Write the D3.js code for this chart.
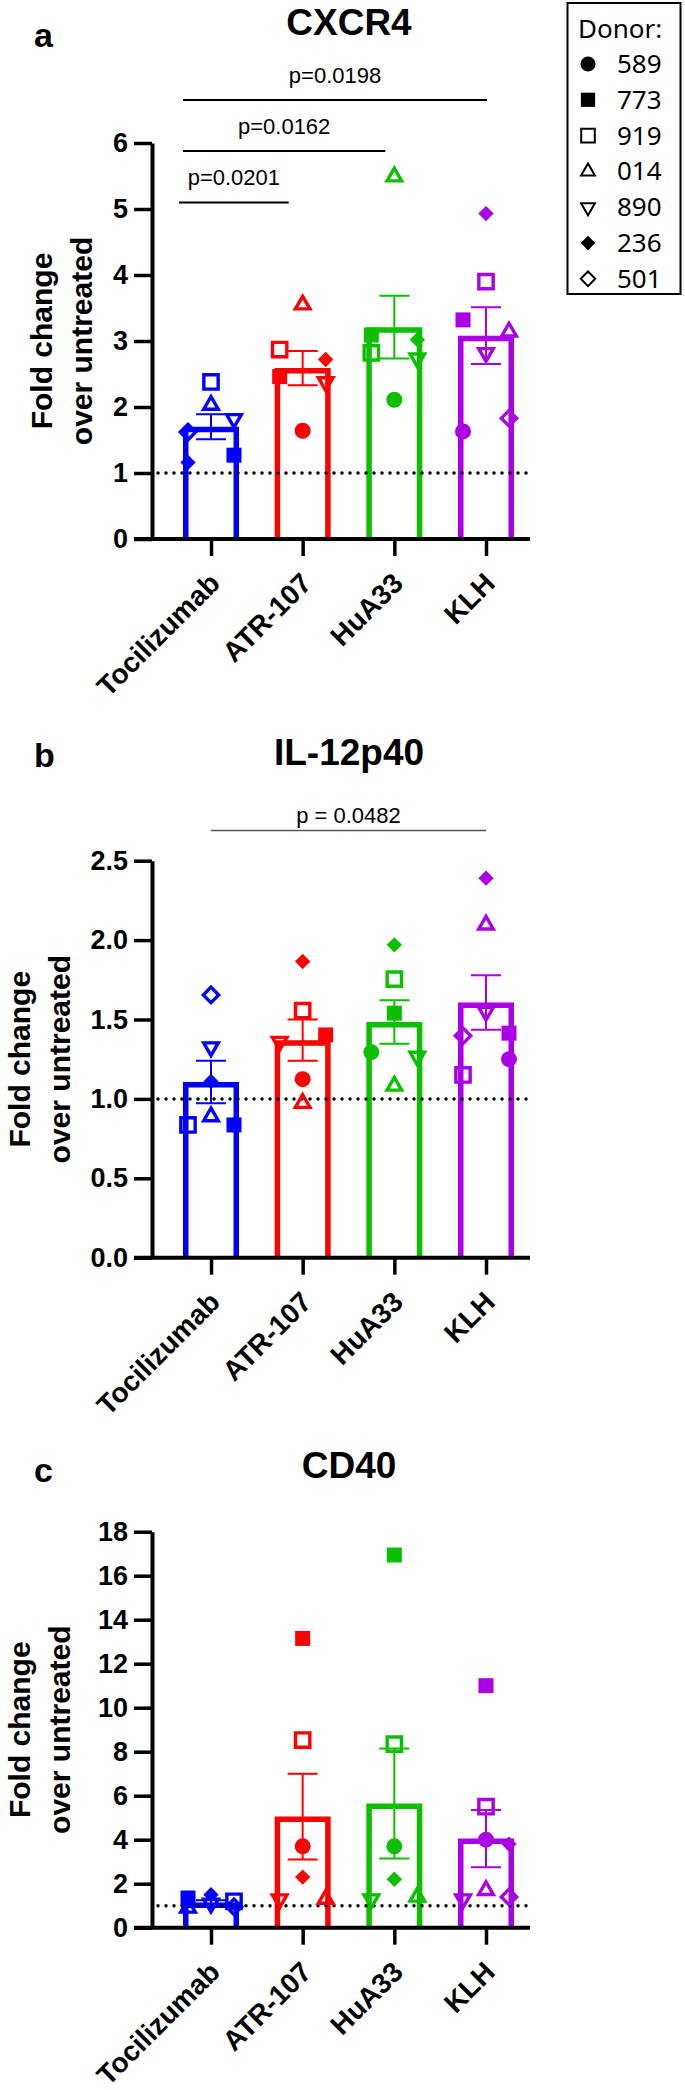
<!DOCTYPE html>
<html>
<head>
<meta charset="utf-8">
<script src="https://cdn.jsdelivr.net/npm/d3@7.9.0/dist/d3.min.js"></script>
<style>
  body { margin: 0; background: #fff; }
  svg { display: block; }
  .bold { font-family: "Liberation Sans", Arial, sans-serif; font-weight: bold; }
  .plain { font-family: "Liberation Sans", Arial, sans-serif; }
</style>
</head>
<body>
<svg id="fig" width="685" height="2090"></svg>
<script>
const CATEGORIES = ["Tocilizumab", "ATR-107", "HuA33", "KLH"];
const DONORS = ["589", "773", "919", "014", "890", "236", "501"];

// [category, donor, value, column in the swarm (L / C / R)]
const CXCR4_POINTS = [
  ["Tocilizumab", "919", 2.38, "C"], ["Tocilizumab", "014", 2.03, "C"], ["Tocilizumab", "890", 1.82, "R"],
  ["Tocilizumab", "501", 1.62, "L"], ["Tocilizumab", "773", 1.27, "R"], ["Tocilizumab", "236", 1.16, "L"],
  ["ATR-107", "014", 3.55, "C"], ["ATR-107", "919", 2.87, "L"], ["ATR-107", "236", 2.72, "R"],
  ["ATR-107", "773", 2.46, "L"], ["ATR-107", "890", 2.38, "R"], ["ATR-107", "589", 1.64, "C"],
  ["HuA33", "014", 5.49, "C"], ["HuA33", "773", 3.09, "L"], ["HuA33", "236", 3.02, "R"],
  ["HuA33", "919", 2.82, "L"], ["HuA33", "890", 2.74, "R"], ["HuA33", "589", 2.11, "C"],
  ["KLH", "236", 4.93, "C"], ["KLH", "919", 3.90, "C"], ["KLH", "773", 3.32, "L"], ["KLH", "014", 3.14, "R"],
  ["KLH", "890", 2.82, "C"], ["KLH", "501", 1.83, "R"], ["KLH", "589", 1.63, "L"]
];
const CXCR4_MEAN = [1.70, 2.59, 3.21, 3.08];
const CXCR4_SEM = [0.19, 0.26, 0.475, 0.43];
const CXCR4_SIG = [
  ["Tocilizumab", "KLH", "p=0.0198", 6.65],
  ["Tocilizumab", "HuA33", "p=0.0162", 5.88],
  ["Tocilizumab", "ATR-107", "p=0.0201", 5.10]
];

const IL12_POINTS = [
  ["Tocilizumab", "501", 1.655, "C"], ["Tocilizumab", "890", 1.326, "C"], ["Tocilizumab", "236", 1.11, "C"],
  ["Tocilizumab", "014", 0.889, "C"], ["Tocilizumab", "919", 0.836, "L"], ["Tocilizumab", "773", 0.836, "R"],
  ["ATR-107", "236", 1.865, "C"], ["ATR-107", "919", 1.556, "C"], ["ATR-107", "773", 1.403, "R"],
  ["ATR-107", "890", 1.361, "L"], ["ATR-107", "589", 1.124, "C"], ["ATR-107", "014", 0.973, "C"],
  ["HuA33", "236", 1.97, "C"], ["HuA33", "919", 1.754, "C"], ["HuA33", "773", 1.54, "C"],
  ["HuA33", "589", 1.294, "L"], ["HuA33", "890", 1.267, "R"], ["HuA33", "014", 1.082, "C"],
  ["KLH", "236", 2.39, "C"], ["KLH", "014", 2.096, "C"], ["KLH", "890", 1.55, "C"], ["KLH", "773", 1.414, "R"],
  ["KLH", "501", 1.397, "L"], ["KLH", "589", 1.25, "R"], ["KLH", "919", 1.151, "L"]
];
const IL12_MEAN = [1.107, 1.37, 1.484, 1.607];
const IL12_SEM = [0.134, 0.13, 0.137, 0.172];
const IL12_SIG = [["Tocilizumab", "KLH", "p = 0.0482", 2.69]];

const CD40_POINTS = [
  ["Tocilizumab", "236", 1.5, "C"], ["Tocilizumab", "773", 1.35, "L"], ["Tocilizumab", "919", 1.2, "R"],
  ["Tocilizumab", "890", 1.1, "C"], ["Tocilizumab", "501", 0.95, "R"], ["Tocilizumab", "014", 0.9, "L"],
  ["ATR-107", "773", 13.15, "C"], ["ATR-107", "919", 8.53, "C"], ["ATR-107", "589", 3.7, "C"],
  ["ATR-107", "236", 2.3, "C"], ["ATR-107", "890", 1.3, "L"], ["ATR-107", "014", 1.3, "R"],
  ["HuA33", "773", 16.94, "C"], ["HuA33", "919", 8.34, "C"], ["HuA33", "589", 3.7, "C"],
  ["HuA33", "236", 2.2, "C"], ["HuA33", "890", 1.3, "L"], ["HuA33", "014", 1.4, "R"],
  ["KLH", "773", 11.0, "C"], ["KLH", "919", 5.5, "C"], ["KLH", "589", 4.0, "C"], ["KLH", "236", 3.8, "R"],
  ["KLH", "014", 1.7, "C"], ["KLH", "890", 1.3, "L"], ["KLH", "501", 1.4, "R"]
];
const CD40_MEAN = [1.15, 5.05, 5.65, 4.05];
const CD40_SEM = [0.1, 1.95, 2.5, 1.3];
const CD40_SIG = [];

const COLORS = ["#0000ff", "#ff0000", "#0cc000", "#aa00e6"];

// marker style per donor
const MARK = {
  "589": {type: d3.symbolCircle, size: 200, fill: true, rot: 0},
  "773": {type: d3.symbolSquare, size: 225, fill: true, rot: 0},
  "919": {type: d3.symbolSquare, size: 205, fill: false, rot: 0},
  "014": {type: d3.symbolTriangle, size: 92, fill: false, rot: 0},
  "890": {type: d3.symbolTriangle, size: 92, fill: false, rot: 180},
  "236": {type: d3.symbolSquare, size: 118, fill: true, rot: 45},
  "501": {type: d3.symbolSquare, size: 118, fill: false, rot: 45}
};

const svg = d3.select("#fig");
const color = d3.scaleOrdinal().domain(CATEGORIES).range(COLORS);
const x = d3.scalePoint().domain(CATEGORIES).range([211, 486]);
const col = d3.scalePoint().domain(["L", "C", "R"]).range([-23, 23]);

const AXIS_X = 152, X_END = 530, BAR_W = 56, BAR_SW = 5.5;

function drawMarker(sel, donor, c, size_k = 1) {
  const m = MARK[donor];
  sel.append("path")
    .attr("d", d3.symbol(m.type, m.size * size_k)())
    .attr("transform", `rotate(${m.rot})`)
    .attr("fill", m.fill ? c : "#fff")
    .attr("fill-opacity", m.fill ? 1 : 0)
    .attr("stroke", m.fill ? "none" : c)
    .attr("stroke-width", 3.4)
    .attr("stroke-linejoin", "miter");
}

function panel(o) {
  const y = d3.scaleLinear().domain(o.domain).range([o.bottom, o.top]);
  const g = svg.append("g");

  g.append("text").attr("class", "bold").attr("x", 34).attr("y", o.letterY)
    .attr("font-size", 34).text(o.letter);
  g.append("text").attr("class", "bold").attr("x", 349).attr("y", o.titleY)
    .attr("text-anchor", "middle").attr("font-size", 37).text(o.title);

  // y label
  const cy = (o.top + o.bottom) / 2;
  g.append("text").attr("class", "bold").attr("font-size", 30)
    .attr("text-anchor", "middle")
    .attr("transform", `translate(${o.labX},${cy}) rotate(-90)`)
    .text("Fold change");
  g.append("text").attr("class", "bold").attr("font-size", 30)
    .attr("text-anchor", "middle")
    .attr("transform", `translate(${o.labX + 40},${cy}) rotate(-90)`)
    .text("over untreated");

  // bars
  const bars = g.append("g");
  CATEGORIES.forEach((c, i) => {
    const cx = x(c), ym = y(o.mean[i]);
    const l = cx - BAR_W / 2 + BAR_SW / 2, r = cx + BAR_W / 2 - BAR_SW / 2;
    bars.append("path")
      .attr("d", `M${l},${y(0)}V${ym + BAR_SW / 2}H${r}V${y(0)}`)
      .attr("fill", "none").attr("stroke", color(c)).attr("stroke-width", BAR_SW)
      .attr("stroke-linejoin", "miter");
    const hi = y(o.mean[i] + o.sem[i]), lo = y(o.mean[i] - o.sem[i]);
    bars.append("path")
      .attr("d", `M${cx},${hi}V${lo}M${cx - 15},${hi}H${cx + 15}M${cx - 15},${lo}H${cx + 15}`)
      .attr("fill", "none").attr("stroke", color(c)).attr("stroke-width", 2);
  });

  // baseline at 1
  g.append("line").attr("x1", AXIS_X + 6).attr("x2", X_END)
    .attr("y1", y(1)).attr("y2", y(1))
    .attr("stroke", "#000").attr("stroke-width", 3.5)
    .attr("stroke-linecap", "round").attr("stroke-dasharray", "0 8");

  // points
  o.points.forEach(([c, donor, v, k]) => {
    const pg = g.append("g").attr("transform", `translate(${x(c) + col(k)},${y(v)})`);
    drawMarker(pg, donor, color(c));
  });

  // axes
  const ya = g.append("g").attr("transform", `translate(${AXIS_X},0)`)
    .call(d3.axisLeft(y).tickValues(o.ticks).tickFormat(o.fmt).tickSize(18).tickSizeOuter(0).tickPadding(6));
  ya.select(".domain").attr("stroke-width", 4);
  ya.selectAll(".tick line").attr("stroke-width", 3.5);
  ya.selectAll(".tick text").attr("class", "bold").attr("font-size", 27).attr("fill", "#000");

  const xa = g.append("g").attr("transform", `translate(0,${y(0)})`)
    .call(d3.axisBottom(x).tickSize(17).tickSizeOuter(0));
  xa.select(".domain").remove();
  xa.selectAll(".tick line").attr("stroke-width", 3.5);
  xa.selectAll(".tick text").attr("class", "bold").attr("font-size", 28).attr("fill", "#000")
    .attr("text-anchor", "end").attr("dy", null).attr("y", null)
    .attr("transform", "translate(10,46) rotate(-45)");
  g.append("line").attr("x1", AXIS_X - 18).attr("x2", X_END)
    .attr("y1", y(0)).attr("y2", y(0)).attr("stroke", "#000").attr("stroke-width", 4);

  // significance brackets
  o.sig.forEach(([a, b, label, lv], i) => {
    const off = o.sigOff[i];
    const x1 = x(a) + off[0], x2 = x(b) + off[1];
    g.append("line").attr("x1", x1).attr("x2", x2).attr("y1", y(lv)).attr("y2", y(lv))
      .attr("stroke", o.sigColor).attr("stroke-width", o.sigW);
    g.append("text").attr("class", "plain").attr("font-size", 22)
      .attr("text-anchor", "middle").attr("x", (x1 + x2) / 2).attr("y", y(lv) - o.sigGap)
      .text(label);
  });
}

panel({
  letter: "a", letterY: 47, title: "CXCR4", titleY: 35,
  domain: [0, 6], top: 143, bottom: 539, ticks: d3.range(0, 7), fmt: d3.format("d"),
  labX: 52, points: CXCR4_POINTS, mean: CXCR4_MEAN, sem: CXCR4_SEM,
  sig: CXCR4_SIG, sigOff: [[-28, 1], [-28, -9], [-32, -14]], sigColor: "#000", sigW: 2, sigGap: 17
});
panel({
  letter: "b", letterY: 767, title: "IL-12p40", titleY: 765,
  domain: [0, 2.5], top: 860.7, bottom: 1257.7, ticks: d3.range(0, 2.51, 0.5), fmt: d3.format(".1f"),
  labX: 30, points: IL12_POINTS, mean: IL12_MEAN, sem: IL12_SEM,
  sig: IL12_SIG, sigOff: [[0, 0]], sigColor: "#555", sigW: 1.5, sigGap: 8
});
panel({
  letter: "c", letterY: 1482, title: "CD40", titleY: 1478,
  domain: [0, 18], top: 1531.7, bottom: 1927.7, ticks: d3.range(0, 19, 2), fmt: d3.format("d"),
  labX: 30, points: CD40_POINTS, mean: CD40_MEAN, sem: CD40_SEM,
  sig: CD40_SIG, sigOff: [], sigColor: "#000", sigW: 2, sigGap: 8
});

// donor legend
const lg = svg.append("g");
lg.append("rect").attr("x", 567.5).attr("y", 3).attr("width", 113).attr("height", 291)
  .attr("fill", "#fff").attr("stroke", "#000").attr("stroke-width", 2);
lg.append("text").attr("x", 578).attr("y", 38).attr("font-family", "Noto Sans")
  .attr("font-size", 26).text("Donor:");
DONORS.forEach((d, i) => {
  const by = 73 + i * 35.8;
  const r = lg.append("g").attr("transform", `translate(588,${by - 9})`);
  drawMarker(r, d, "#000", 0.9);
  r.selectAll("path").filter(function () { return d3.select(this).attr("stroke") !== "none"; })
    .attr("stroke-width", 2);
  lg.append("text").attr("x", 617).attr("y", by).attr("font-family", "Noto Sans")
    .attr("font-size", 26).text(d);
});
</script>
</body>
</html>
